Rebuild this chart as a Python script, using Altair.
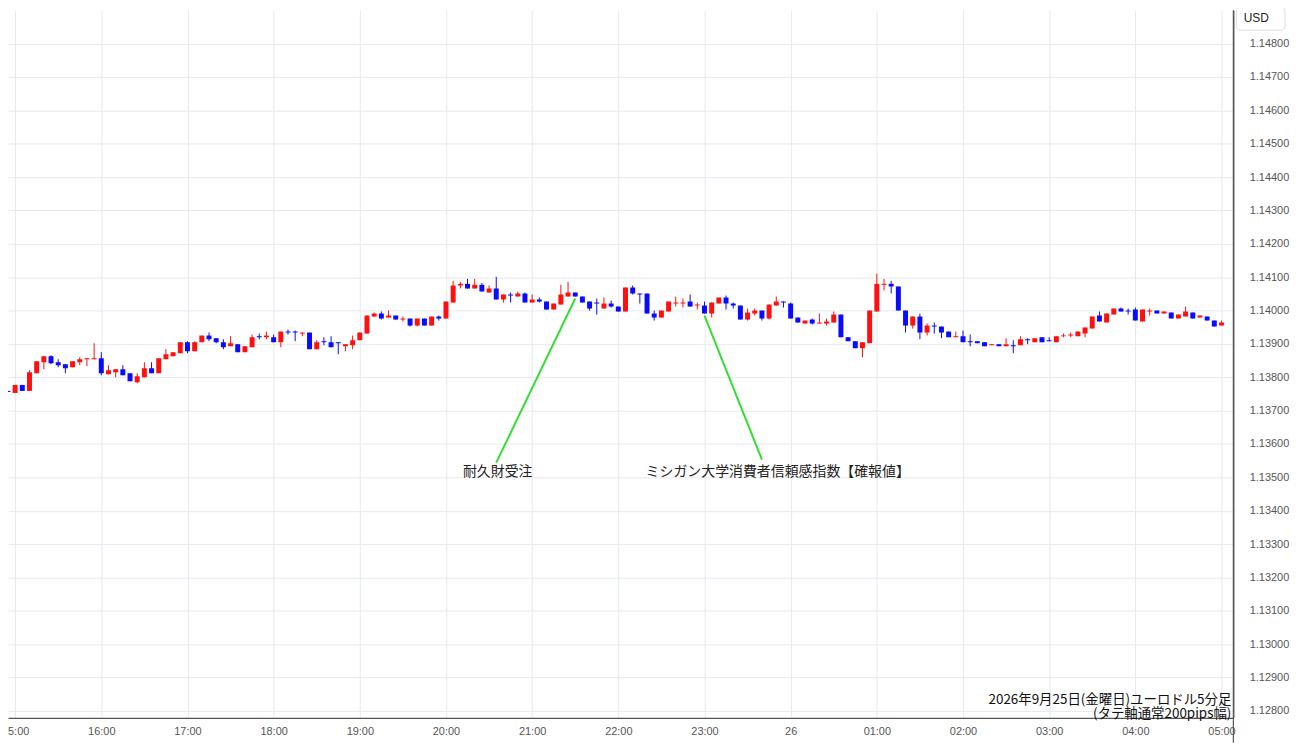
import altair as alt
import pandas as pd

# ---- data (EUR/USD 5-minute candles, 2026-09-25 14:55 -> 2026-09-26 05:00) ----
times = pd.date_range("2026-09-25 14:55", periods=170, freq="5min").strftime("%Y-%m-%dT%H:%M:%SZ").tolist()

opens = [1.13759, 1.13753, 1.13777, 1.13759, 1.13812, 1.13845, 1.13863, 1.13845, 1.13839, 1.13830,
         1.13845, 1.13854, 1.13854, 1.13857, 1.13809, 1.13815, 1.13824, 1.13812, 1.13785, 1.13800,
         1.13827, 1.13812, 1.13854, 1.13863, 1.13872, 1.13905, 1.13878, 1.13905, 1.13925, 1.13917,
         1.13905, 1.13893, 1.13899, 1.13875, 1.13890, 1.13923, 1.13920, 1.13920, 1.13905, 1.13937,
         1.13937, 1.13931, 1.13934, 1.13884, 1.13908, 1.13905, 1.13905, 1.13893, 1.13896, 1.13911,
         1.13931, 1.13982, 1.13991, 1.13979, 1.13985, 1.13973, 1.13976, 1.13955, 1.13976, 1.13955,
         1.13982, 1.13976, 1.14024, 1.14075, 1.14080, 1.14066, 1.14077, 1.14054, 1.14066, 1.14033,
         1.14048, 1.14042, 1.14051, 1.14024, 1.14033, 1.14027, 1.14003, 1.14018, 1.14042, 1.14054,
         1.14042, 1.14027, 1.14024, 1.14006, 1.14021, 1.14012, 1.13997, 1.14069, 1.14051, 1.14051,
         1.13991, 1.13979, 1.13997, 1.14021, 1.14021, 1.14027, 1.14015, 1.14015, 1.13991, 1.14021,
         1.14039, 1.14021, 1.14015, 1.13973, 1.13991, 1.14000, 1.13976, 1.14015, 1.14027, 1.14021,
         1.13979, 1.13961, 1.13973, 1.13961, 1.13961, 1.13964, 1.13988, 1.13920, 1.13908, 1.13887,
         1.13902, 1.13997, 1.14077, 1.14080, 1.14072, 1.14000, 1.13955, 1.13982, 1.13934, 1.13955,
         1.13952, 1.13937, 1.13920, 1.13923, 1.13908, 1.13908, 1.13905, 1.13896, 1.13899, 1.13893,
         1.13896, 1.13896, 1.13914, 1.13905, 1.13920, 1.13911, 1.13905, 1.13923, 1.13925, 1.13923,
         1.13931, 1.13946, 1.13985, 1.13964, 1.13988, 1.14006, 1.14000, 1.14003, 1.13967, 1.13997,
         1.14000, 1.13991, 1.13994, 1.13976, 1.13982, 1.13994, 1.13979, 1.13982, 1.13970, 1.13955]

highs = [1.13759, 1.13777, 1.13777, 1.13821, 1.13848, 1.13863, 1.13866, 1.13854, 1.13839, 1.13848,
         1.13860, 1.13857, 1.13902, 1.13875, 1.13836, 1.13824, 1.13836, 1.13812, 1.13812, 1.13845,
         1.13845, 1.13857, 1.13884, 1.13875, 1.13905, 1.13908, 1.13908, 1.13925, 1.13934, 1.13917,
         1.13914, 1.13923, 1.13899, 1.13893, 1.13928, 1.13931, 1.13937, 1.13928, 1.13937, 1.13943,
         1.13940, 1.13934, 1.13934, 1.13911, 1.13920, 1.13923, 1.13905, 1.13899, 1.13925, 1.13934,
         1.13985, 1.13994, 1.13997, 1.14000, 1.13985, 1.13982, 1.13976, 1.13976, 1.13976, 1.13982,
         1.13985, 1.14027, 1.14089, 1.14086, 1.14095, 1.14095, 1.14083, 1.14075, 1.14101, 1.14048,
         1.14054, 1.14057, 1.14054, 1.14048, 1.14039, 1.14027, 1.14021, 1.14077, 1.14086, 1.14054,
         1.14042, 1.14027, 1.14036, 1.14039, 1.14030, 1.14012, 1.14069, 1.14075, 1.14051, 1.14051,
         1.14000, 1.14000, 1.14027, 1.14042, 1.14036, 1.14048, 1.14024, 1.14027, 1.14024, 1.14039,
         1.14045, 1.14024, 1.14015, 1.14006, 1.14006, 1.14000, 1.14018, 1.14042, 1.14027, 1.14024,
         1.13979, 1.13970, 1.13976, 1.13991, 1.13976, 1.13997, 1.13988, 1.13920, 1.13908, 1.13905,
         1.14000, 1.14110, 1.14095, 1.14089, 1.14072, 1.14000, 1.13982, 1.13991, 1.13961, 1.13964,
         1.13952, 1.13937, 1.13937, 1.13940, 1.13928, 1.13908, 1.13905, 1.13899, 1.13899, 1.13917,
         1.13911, 1.13923, 1.13917, 1.13917, 1.13920, 1.13920, 1.13923, 1.13931, 1.13934, 1.13937,
         1.13949, 1.13982, 1.13997, 1.13991, 1.14006, 1.14009, 1.14006, 1.14009, 1.14003, 1.14006,
         1.14000, 1.13997, 1.13994, 1.13988, 1.14012, 1.13994, 1.13985, 1.13982, 1.13970, 1.13970]

lows = [1.13756, 1.13753, 1.13759, 1.13759, 1.13812, 1.13824, 1.13839, 1.13830, 1.13812, 1.13830,
        1.13836, 1.13833, 1.13854, 1.13806, 1.13809, 1.13800, 1.13806, 1.13788, 1.13782, 1.13800,
        1.13812, 1.13812, 1.13854, 1.13863, 1.13872, 1.13872, 1.13878, 1.13905, 1.13908, 1.13902,
        1.13884, 1.13893, 1.13875, 1.13875, 1.13890, 1.13914, 1.13914, 1.13905, 1.13890, 1.13928,
        1.13908, 1.13923, 1.13884, 1.13884, 1.13896, 1.13890, 1.13869, 1.13878, 1.13884, 1.13911,
        1.13931, 1.13982, 1.13973, 1.13979, 1.13973, 1.13967, 1.13952, 1.13952, 1.13955, 1.13955,
        1.13970, 1.13976, 1.14024, 1.14066, 1.14066, 1.14066, 1.14057, 1.14054, 1.14033, 1.14024,
        1.14024, 1.14042, 1.14024, 1.14024, 1.14024, 1.14003, 1.14003, 1.14018, 1.14042, 1.14042,
        1.14024, 1.14000, 1.13988, 1.14006, 1.14009, 1.13997, 1.13997, 1.14048, 1.14021, 1.13991,
        1.13970, 1.13979, 1.13997, 1.14012, 1.14009, 1.14012, 1.14003, 1.13991, 1.13979, 1.14021,
        1.14003, 1.14006, 1.13973, 1.13970, 1.13985, 1.13970, 1.13973, 1.14015, 1.14009, 1.13976,
        1.13964, 1.13961, 1.13958, 1.13961, 1.13955, 1.13964, 1.13920, 1.13908, 1.13887, 1.13860,
        1.13902, 1.13997, 1.14060, 1.14051, 1.14000, 1.13934, 1.13946, 1.13914, 1.13925, 1.13931,
        1.13917, 1.13920, 1.13920, 1.13905, 1.13893, 1.13902, 1.13893, 1.13896, 1.13893, 1.13893,
        1.13872, 1.13896, 1.13899, 1.13905, 1.13905, 1.13908, 1.13905, 1.13920, 1.13920, 1.13923,
        1.13920, 1.13946, 1.13967, 1.13964, 1.13988, 1.13997, 1.13988, 1.13970, 1.13967, 1.13985,
        1.13991, 1.13991, 1.13976, 1.13976, 1.13982, 1.13976, 1.13979, 1.13970, 1.13952, 1.13955]

closes = [1.13756, 1.13777, 1.13759, 1.13815, 1.13848, 1.13863, 1.13842, 1.13836, 1.13827, 1.13848,
          1.13854, 1.13857, 1.13857, 1.13812, 1.13821, 1.13824, 1.13806, 1.13788, 1.13803, 1.13827,
          1.13812, 1.13857, 1.13869, 1.13875, 1.13905, 1.13878, 1.13905, 1.13925, 1.13914, 1.13905,
          1.13890, 1.13902, 1.13875, 1.13893, 1.13920, 1.13920, 1.13925, 1.13905, 1.13937, 1.13934,
          1.13934, 1.13934, 1.13884, 1.13905, 1.13905, 1.13890, 1.13902, 1.13899, 1.13911, 1.13934,
          1.13985, 1.13991, 1.13976, 1.13985, 1.13973, 1.13976, 1.13955, 1.13976, 1.13955, 1.13982,
          1.13976, 1.14027, 1.14075, 1.14080, 1.14066, 1.14077, 1.14057, 1.14066, 1.14033, 1.14048,
          1.14045, 1.14051, 1.14024, 1.14033, 1.14027, 1.14003, 1.14021, 1.14048, 1.14054, 1.14042,
          1.14024, 1.14006, 1.14021, 1.14021, 1.14012, 1.13997, 1.14069, 1.14051, 1.14048, 1.13991,
          1.13979, 1.14000, 1.14027, 1.14024, 1.14024, 1.14012, 1.14018, 1.13991, 1.14024, 1.14039,
          1.14021, 1.14015, 1.13973, 1.13994, 1.14000, 1.13976, 1.14018, 1.14027, 1.14024, 1.13976,
          1.13964, 1.13970, 1.13961, 1.13964, 1.13967, 1.13988, 1.13920, 1.13908, 1.13887, 1.13905,
          1.14000, 1.14080, 1.14080, 1.14072, 1.14000, 1.13955, 1.13982, 1.13934, 1.13955, 1.13952,
          1.13934, 1.13920, 1.13923, 1.13905, 1.13905, 1.13902, 1.13893, 1.13899, 1.13893, 1.13899,
          1.13893, 1.13914, 1.13911, 1.13917, 1.13905, 1.13908, 1.13923, 1.13925, 1.13928, 1.13937,
          1.13949, 1.13982, 1.13967, 1.13991, 1.14006, 1.13997, 1.13997, 1.13970, 1.14003, 1.14000,
          1.13991, 1.13997, 1.13976, 1.13988, 1.13997, 1.13976, 1.13985, 1.13970, 1.13952, 1.13964]

# annotations
event_labels = ["耐久財受注", "ミシガン大学消費者信頼感指数【確報値】"]
event_times = ["2026-09-25T21:30:00Z", "2026-09-25T23:00:00Z"]
event_prices = [1.14036, 1.13985]
leader_times = ["2026-09-25T20:35:00Z", "2026-09-25T23:40:00Z"]
leader_prices = [1.13544, 1.13553]
label_times = ["2026-09-25T20:36:00Z", "2026-09-25T23:51:00Z"]
label_prices = [1.13517, 1.13517]

price_ticks = [1.128, 1.129, 1.130, 1.131, 1.132, 1.133, 1.134, 1.135, 1.136, 1.137,
               1.138, 1.139, 1.140, 1.141, 1.142, 1.143, 1.144, 1.145, 1.146, 1.147, 1.148]
hour_ticks = [(25, 15), (25, 16), (25, 17), (25, 18), (25, 19), (25, 20), (25, 21), (25, 22),
              (25, 23), (26, 0), (26, 1), (26, 2), (26, 3), (26, 4), (26, 5)]

caption_lines = ["2026年9月25日(金曜日)ユーロドル5分足", "(タテ軸通常200pips幅)"]

# ---- chart ----
df = pd.DataFrame({"t": times, "open": opens, "high": highs, "low": lows, "close": closes})
ann = pd.DataFrame({"label": event_labels, "t1": event_times, "p1": event_prices,
                    "t2": leader_times, "p2": leader_prices,
                    "tt": label_times, "tp": label_prices})
one = pd.DataFrame({"a": [0]})

W, H = 1233, 712
GRID = "#e4eaf0"
AXIS = "#555555"
LABEL_FONT = "Liberation Sans"
JP_FONT = "Noto Sans CJK JP"

xscale = alt.Scale(type="utc", domain=[
    alt.DateTime(year=2026, month=9, date=25, hours=14, minutes=58, seconds=30, utc=True),
    alt.DateTime(year=2026, month=9, date=26, hours=5, minutes=4, seconds=48, utc=True)])
yscale = alt.Scale(domain=[1.12779, 1.149], zero=False, nice=False)

xaxis = alt.Axis(
    values=[alt.DateTime(year=2026, month=9, date=d, hours=h, utc=True) for d, h in hour_ticks],
    labelExpr="utchours(datum.value) == 0 ? '26' : utcFormat(datum.value, '%H:%M')",
    tickCount=40,
    grid=True, gridColor=GRID, gridWidth=1, ticks=False, tickSize=0,
    domainColor=AXIS, domainWidth=1.2, labelColor="#555555", labelFont=LABEL_FONT,
    labelFontSize=11, labelPadding=8, labelOverlap=False, labelFlush=False, title=None)
yaxis = alt.Axis(
    orient="right", values=price_ticks, tickCount=40, format=".5f", grid=True,
    gridColor=GRID, gridWidth=1,
    ticks=False, tickSize=0, domainColor=AXIS, domainWidth=1.2, labelColor="#555555",
    labelFont=LABEL_FONT, labelFontSize=11, labelPadding=16, labelOverlap=False, title=None)

cscale = alt.Scale(domain=["up", "down"], range=["#ff1010", "#0a0aff"])

base = alt.Chart(df).transform_calculate(dir="datum.close >= datum.open ? 'up' : 'down'")

wicks = base.mark_rule(strokeWidth=1, clip=True).encode(
    x=alt.X("t:T", scale=xscale, axis=xaxis),
    y=alt.Y("low:Q", scale=yscale, axis=yaxis),
    y2="high:Q",
    color=alt.Color("dir:N", scale=cscale, legend=None))

bodies = base.mark_bar(size=5, clip=True).encode(
    x="t:T", y="open:Q", y2="close:Q",
    color=alt.Color("dir:N", scale=cscale, legend=None))

leaders = alt.Chart(ann).mark_rule(color="#33dd33", strokeWidth=2).encode(
    x="t1:T", y="p1:Q", x2="t2:T", y2="p2:Q")

labels = alt.Chart(ann).mark_text(font=JP_FONT, fontSize=14, color="#222222",
                                  align="center", baseline="middle").encode(
    x="tt:T", y="tp:Q", text="label:N")

caption = alt.Chart(one).mark_text(font=JP_FONT, fontSize=13.5, color="#111111", align="right",
                                   baseline="middle", lineHeight=14, text=caption_lines).encode(
    x=alt.value(1231), y=alt.value(694))

usd_box = alt.Chart(one).mark_rect(fill="white", stroke="#dddddd", strokeWidth=1,
                                   cornerRadius=4).encode(
    x=alt.value(1236), x2=alt.value(1285), y=alt.value(-3), y2=alt.value(20))
usd_text = alt.Chart(one).mark_text(font=LABEL_FONT, fontSize=12, color="#222222",
                                    align="center", baseline="middle", text="USD").encode(
    x=alt.value(1256), y=alt.value(8))

right_line = alt.Chart(one).mark_rule(color=AXIS, strokeWidth=1.2).encode(
    x=alt.value(W), y=alt.value(0), y2=alt.value(H + 25))

chart = alt.layer(wicks, bodies, leaders, labels, caption, usd_box, usd_text, right_line).properties(
    width=W, height=H,
    autosize=alt.AutoSizeParams(type="none"),
    padding={"left": 0, "top": 0, "right": 59, "bottom": 25},
    background="white",
).configure_view(stroke=None)

chart.save("out.html", embed_options={"renderer": "svg", "actions": False})
